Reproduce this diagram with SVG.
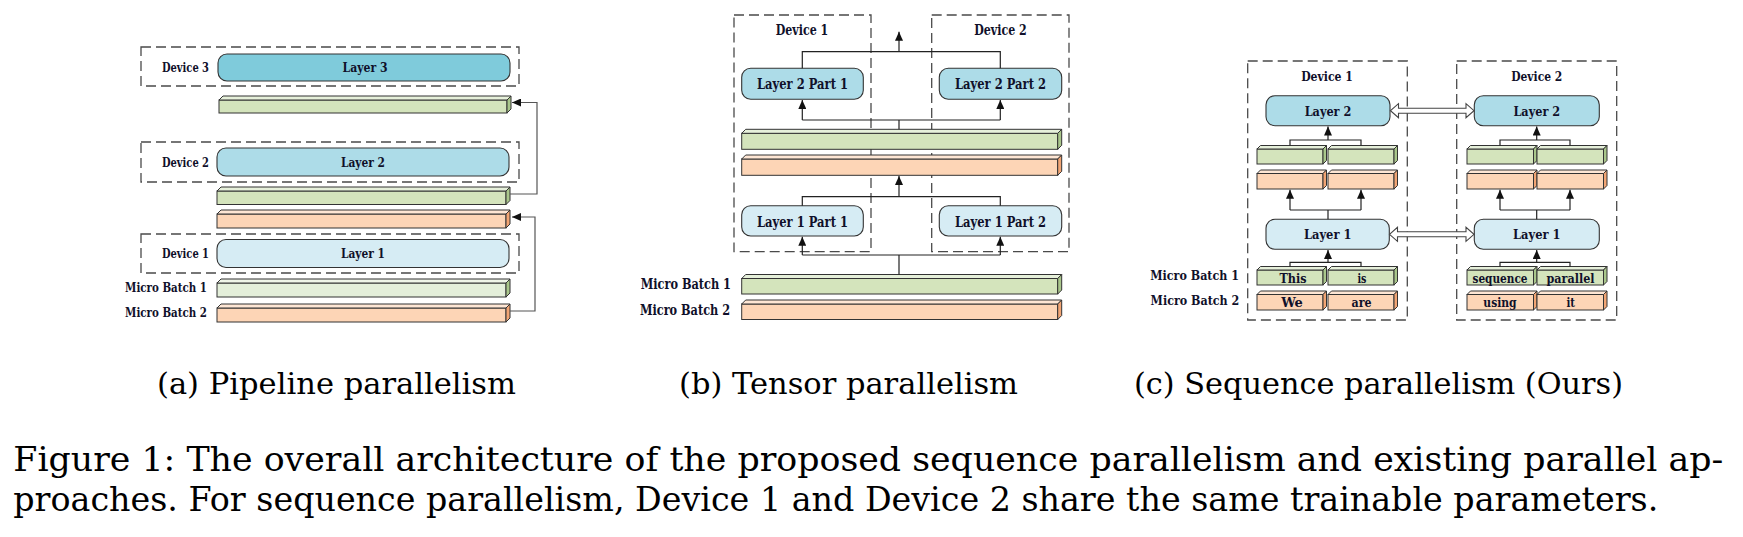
<svg xmlns="http://www.w3.org/2000/svg" width="1743" height="537" viewBox="0 0 1743 537">
<defs>
<style>
.dash{fill:none;stroke:#4a4a4a;stroke-width:1.3;stroke-dasharray:10 5}
.l3{fill:#7FCBDB;stroke:#333;stroke-width:1.1}
.l2{fill:#ADDCE8;stroke:#333;stroke-width:1.1}
.l1{fill:#D6ECF4;stroke:#333;stroke-width:1.1}
.gf{fill:#D4E4BC;stroke:#333;stroke-width:1}
.gt{fill:#E6F0DA;stroke:#333;stroke-width:1}
.gs{fill:#A9C68B;stroke:#333;stroke-width:1}
.pf{fill:#E4EFDA;stroke:#333;stroke-width:1}
.pt{fill:#EFF5E8;stroke:#333;stroke-width:1}
.of{fill:#FDD5B6;stroke:#333;stroke-width:1}
.ot{fill:#FEE6D4;stroke:#333;stroke-width:1}
.os{fill:#F2A574;stroke:#333;stroke-width:1}
.lbl{font-family:'DejaVu Serif',serif;font-weight:bold;fill:#10102a}
.a{font-size:12.5px}
.b{font-size:14px}
.c{font-size:13px}
.mid{text-anchor:middle}
.end{text-anchor:end}
.cap{font-family:'DejaVu Serif',serif;fill:#000}
.con{fill:none;stroke:#222;stroke-width:1.2}
.cong{fill:none;stroke:#555;stroke-width:1.2}
.dbl{fill:#fff;stroke:#444;stroke-width:1.1}
</style>
<marker id="ah" markerWidth="10" markerHeight="8" refX="9" refY="4" orient="auto" markerUnits="userSpaceOnUse">
<path d="M0,0 L9,4 L0,8 z" fill="#111"/>
</marker>
</defs>

<!-- Panel (a) -->
<g id="a-device3">
<rect class="dash" x="141" y="47" width="378" height="39"/>
<text class="lbl a" x="162" y="72" textLength="47" lengthAdjust="spacingAndGlyphs">Device 3</text>
</g>
<g id="a-layer3">
<rect class="l3" x="218" y="54" width="292" height="27" rx="9"/>
<text class="lbl a mid" x="365" y="72" textLength="45" lengthAdjust="spacingAndGlyphs">Layer 3</text>
</g>
<g id="a-bar-g1">
<rect class="gf" x="219" y="100" width="288" height="13"/>
<polygon class="gt" points="219,100 223,96 511,96 507,100"/>
<polygon class="gs" points="507,100 511,96 511,109 507,113"/>
</g>
<g id="a-device2">
<rect class="dash" x="141" y="142" width="378" height="40"/>
<text class="lbl a" x="162" y="166.7" textLength="47" lengthAdjust="spacingAndGlyphs">Device 2</text>
</g>
<g id="a-layer2">
<rect class="l2" x="217" y="148" width="292" height="28" rx="9"/>
<text class="lbl a mid" x="363" y="166.7" textLength="44" lengthAdjust="spacingAndGlyphs">Layer 2</text>
</g>
<g id="a-bar-g2">
<rect class="gf" x="217" y="191" width="289" height="13.5"/>
<polygon class="gt" points="217,191 221,187 510,187 506,191"/>
<polygon class="gs" points="506,191 510,187 510,200.5 506,204.5"/>
</g>
<g id="a-bar-o1">
<rect class="of" x="217" y="214" width="289" height="14"/>
<polygon class="ot" points="217,214 221,210 510,210 506,214"/>
<polygon class="os" points="506,214 510,210 510,224 506,228"/>
</g>
<g id="a-device1">
<rect class="dash" x="141" y="234" width="378" height="39"/>
<text class="lbl a" x="162" y="257.7" textLength="47" lengthAdjust="spacingAndGlyphs">Device 1</text>
</g>
<g id="a-layer1">
<rect class="l1" x="217" y="239.5" width="292" height="28" rx="9"/>
<text class="lbl a mid" x="363" y="257.7" textLength="44" lengthAdjust="spacingAndGlyphs">Layer 1</text>
</g>
<g id="a-mb1">
<rect class="pf" x="217" y="283" width="289" height="14"/>
<polygon class="pt" points="217,283 221,279 510,279 506,283"/>
<polygon class="gs" points="506,283 510,279 510,293 506,297"/>
<text class="lbl a end" x="207" y="292.1" textLength="82" lengthAdjust="spacingAndGlyphs">Micro Batch 1</text>
</g>
<g id="a-mb2">
<rect class="of" x="217" y="308" width="289" height="14"/>
<polygon class="ot" points="217,308 221,304 510,304 506,308"/>
<polygon class="os" points="506,308 510,304 510,318 506,322"/>
<text class="lbl a end" x="207" y="317.1" textLength="82" lengthAdjust="spacingAndGlyphs">Micro Batch 2</text>
</g>

<!-- Panel (b) -->
<g id="b-device1">
<rect class="dash" x="734" y="15" width="137" height="236.7"/>
<text class="lbl b mid" x="802" y="35" textLength="52.5" lengthAdjust="spacingAndGlyphs">Device 1</text>
</g>
<g id="b-device2">
<rect class="dash" x="931.7" y="15" width="137.3" height="236.7"/>
<text class="lbl b mid" x="1000.5" y="35" textLength="52.5" lengthAdjust="spacingAndGlyphs">Device 2</text>
</g>
<g id="b-l2p1">
<rect class="l2" x="741.7" y="68.3" width="121.6" height="31" rx="9"/>
<text class="lbl b mid" x="802.5" y="89" textLength="91" lengthAdjust="spacingAndGlyphs">Layer 2 Part 1</text>
</g>
<g id="b-l2p2">
<rect class="l2" x="939.3" y="68.3" width="122.4" height="31" rx="9"/>
<text class="lbl b mid" x="1000.5" y="89" textLength="91" lengthAdjust="spacingAndGlyphs">Layer 2 Part 2</text>
</g>
<g id="b-bar-g">
<rect class="gf" x="741.7" y="133.3" width="316" height="16"/>
<polygon class="gt" points="741.7,133.3 745.7,129.3 1061.7,129.3 1057.7,133.3"/>
<polygon class="gs" points="1057.7,133.3 1061.7,129.3 1061.7,145.3 1057.7,149.3"/>
</g>
<g id="b-bar-o">
<rect class="of" x="741.7" y="159" width="316" height="16.3"/>
<polygon class="ot" points="741.7,159 745.7,155 1061.7,155 1057.7,159"/>
<polygon class="os" points="1057.7,159 1061.7,155 1061.7,171.3 1057.7,175.3"/>
</g>
<g id="b-l1p1">
<rect class="l1" x="741.7" y="205.7" width="121.6" height="30.3" rx="9"/>
<text class="lbl b mid" x="802.5" y="226.7" textLength="91" lengthAdjust="spacingAndGlyphs">Layer 1 Part 1</text>
</g>
<g id="b-l1p2">
<rect class="l1" x="939.3" y="205.7" width="122.4" height="30.3" rx="9"/>
<text class="lbl b mid" x="1000.5" y="226.7" textLength="91" lengthAdjust="spacingAndGlyphs">Layer 1 Part 2</text>
</g>
<g id="b-mb1">
<rect class="gf" x="741.7" y="278.5" width="316" height="15.5"/>
<polygon class="gt" points="741.7,278.5 745.7,274.5 1061.7,274.5 1057.7,278.5"/>
<polygon class="gs" points="1057.7,278.5 1061.7,274.5 1061.7,290 1057.7,294"/>
<text class="lbl b end" x="731" y="289" textLength="90.3" lengthAdjust="spacingAndGlyphs">Micro Batch 1</text>
</g>
<g id="b-mb2">
<rect class="of" x="741.7" y="304" width="316" height="15.5"/>
<polygon class="ot" points="741.7,304 745.7,300 1061.7,300 1057.7,304"/>
<polygon class="os" points="1057.7,304 1061.7,300 1061.7,315.5 1057.7,319.5"/>
<text class="lbl b end" x="730" y="315" textLength="90" lengthAdjust="spacingAndGlyphs">Micro Batch 2</text>
</g>

<!-- Panel (c) -->
<g id="c-device1">
<rect class="dash" x="1247.7" y="61" width="159.6" height="259"/>
<text class="lbl c mid" x="1327" y="80.5" textLength="51.7" lengthAdjust="spacingAndGlyphs">Device 1</text>
</g>
<g id="c-device2">
<rect class="dash" x="1456.7" y="61" width="160" height="259"/>
<text class="lbl c mid" x="1536.7" y="80.5" textLength="51" lengthAdjust="spacingAndGlyphs">Device 2</text>
</g>
<g id="c-d1-layer2">
<rect class="l2" x="1266" y="95.7" width="124" height="30" rx="9"/>
<text class="lbl c mid" x="1328" y="115.5" textLength="46.7" lengthAdjust="spacingAndGlyphs">Layer 2</text>
</g>
<g id="c-d2-layer2">
<rect class="l2" x="1474.3" y="95.7" width="125" height="30" rx="9"/>
<text class="lbl c mid" x="1536.8" y="115.5" textLength="46.7" lengthAdjust="spacingAndGlyphs">Layer 2</text>
</g>
<g id="c-d1-layer1">
<rect class="l1" x="1266" y="219.3" width="123.3" height="30" rx="9"/>
<text class="lbl c mid" x="1327.7" y="239.1" textLength="47.5" lengthAdjust="spacingAndGlyphs">Layer 1</text>
</g>
<g id="c-d2-layer1">
<rect class="l1" x="1474.3" y="219.3" width="125" height="30" rx="9"/>
<text class="lbl c mid" x="1536.8" y="239.1" textLength="47.5" lengthAdjust="spacingAndGlyphs">Layer 1</text>
</g>
<g id="c-d1-g">
<rect class="gf" x="1257" y="149" width="66" height="15"/>
<polygon class="gt" points="1257,149 1260.5,145.5 1326.5,145.5 1323,149"/>
<polygon class="gs" points="1323,149 1326.5,145.5 1326.5,160.5 1323,164"/>
<rect class="gf" x="1328" y="149" width="66" height="15"/>
<polygon class="gt" points="1328,149 1331.5,145.5 1397.5,145.5 1394,149"/>
<polygon class="gs" points="1394,149 1397.5,145.5 1397.5,160.5 1394,164"/>
</g>
<g id="c-d1-o">
<rect class="of" x="1257" y="173.5" width="66" height="15.5"/>
<polygon class="ot" points="1257,173.5 1260.5,170 1326.5,170 1323,173.5"/>
<polygon class="os" points="1323,173.5 1326.5,170 1326.5,185.5 1323,189"/>
<rect class="of" x="1328" y="173.5" width="66" height="15.5"/>
<polygon class="ot" points="1328,173.5 1331.5,170 1397.5,170 1394,173.5"/>
<polygon class="os" points="1394,173.5 1397.5,170 1397.5,185.5 1394,189"/>
</g>
<g id="c-d1-mb1">
<rect class="gf" x="1257" y="270" width="66" height="15"/>
<polygon class="gt" points="1257,270 1260.5,266.5 1326.5,266.5 1323,270"/>
<polygon class="gs" points="1323,270 1326.5,266.5 1326.5,281.5 1323,285"/>
<rect class="gf" x="1328" y="270" width="66" height="15"/>
<polygon class="gt" points="1328,270 1331.5,266.5 1397.5,266.5 1394,270"/>
<polygon class="gs" points="1394,270 1397.5,266.5 1397.5,281.5 1394,285"/>
<text class="lbl c mid" x="1293" y="282.5" textLength="27" lengthAdjust="spacingAndGlyphs">This</text>
<text class="lbl c mid" x="1362" y="282.5" textLength="9" lengthAdjust="spacingAndGlyphs">is</text>
</g>
<g id="c-d1-mb2">
<rect class="of" x="1257" y="294.5" width="66" height="15.5"/>
<polygon class="ot" points="1257,294.5 1260.5,291 1326.5,291 1323,294.5"/>
<polygon class="os" points="1323,294.5 1326.5,291 1326.5,306.5 1323,310"/>
<rect class="of" x="1328" y="294.5" width="66" height="15.5"/>
<polygon class="ot" points="1328,294.5 1331.5,291 1397.5,291 1394,294.5"/>
<polygon class="os" points="1394,294.5 1397.5,291 1397.5,306.5 1394,310"/>
<text class="lbl c mid" x="1292" y="306.8" textLength="21.7" lengthAdjust="spacingAndGlyphs">We</text>
<text class="lbl c mid" x="1361.5" y="306.8" textLength="20" lengthAdjust="spacingAndGlyphs">are</text>
</g>
<g id="c-d2-g">
<rect class="gf" x="1467" y="149" width="66.5" height="15"/>
<polygon class="gt" points="1467,149 1470.5,145.5 1537,145.5 1533.5,149"/>
<polygon class="gs" points="1533.5,149 1537,145.5 1537,160.5 1533.5,164"/>
<rect class="gf" x="1537" y="149" width="66.5" height="15"/>
<polygon class="gt" points="1537,149 1540.5,145.5 1607,145.5 1603.5,149"/>
<polygon class="gs" points="1603.5,149 1607,145.5 1607,160.5 1603.5,164"/>
</g>
<g id="c-d2-o">
<rect class="of" x="1467" y="173.5" width="66.5" height="15.5"/>
<polygon class="ot" points="1467,173.5 1470.5,170 1537,170 1533.5,173.5"/>
<polygon class="os" points="1533.5,173.5 1537,170 1537,185.5 1533.5,189"/>
<rect class="of" x="1537" y="173.5" width="66.5" height="15.5"/>
<polygon class="ot" points="1537,173.5 1540.5,170 1607,170 1603.5,173.5"/>
<polygon class="os" points="1603.5,173.5 1607,170 1607,185.5 1603.5,189"/>
</g>
<g id="c-d2-mb1">
<rect class="gf" x="1467" y="270" width="66.5" height="15"/>
<polygon class="gt" points="1467,270 1470.5,266.5 1537,266.5 1533.5,270"/>
<polygon class="gs" points="1533.5,270 1537,266.5 1537,281.5 1533.5,285"/>
<rect class="gf" x="1537" y="270" width="66.5" height="15"/>
<polygon class="gt" points="1537,270 1540.5,266.5 1607,266.5 1603.5,270"/>
<polygon class="gs" points="1603.5,270 1607,266.5 1607,281.5 1603.5,285"/>
<text class="lbl c mid" x="1500" y="282.5" textLength="55" lengthAdjust="spacingAndGlyphs">sequence</text>
<text class="lbl c mid" x="1570.5" y="282.5" textLength="48" lengthAdjust="spacingAndGlyphs">parallel</text>
</g>
<g id="c-d2-mb2">
<rect class="of" x="1467" y="294.5" width="66.5" height="15.5"/>
<polygon class="ot" points="1467,294.5 1470.5,291 1537,291 1533.5,294.5"/>
<polygon class="os" points="1533.5,294.5 1537,291 1537,306.5 1533.5,310"/>
<rect class="of" x="1537" y="294.5" width="66.5" height="15.5"/>
<polygon class="ot" points="1537,294.5 1540.5,291 1607,291 1603.5,294.5"/>
<polygon class="os" points="1603.5,294.5 1607,291 1607,306.5 1603.5,310"/>
<text class="lbl c mid" x="1500" y="306.8" textLength="33.3" lengthAdjust="spacingAndGlyphs">using</text>
<text class="lbl c mid" x="1570.7" y="306.8" textLength="8.5" lengthAdjust="spacingAndGlyphs">it</text>
</g>
<g id="c-labels">
<text class="lbl c end" x="1239" y="280.3" textLength="88.7" lengthAdjust="spacingAndGlyphs">Micro Batch 1</text>
<text class="lbl c end" x="1239.3" y="304.6" textLength="88.7" lengthAdjust="spacingAndGlyphs">Micro Batch 2</text>
</g>

<!-- Connectors -->
<g id="connectors">
<path class="cong" d="M510,311 H535 V217 H512" marker-end="url(#ah)"/>
<path class="cong" d="M510,194 H537 V102.5 H512" marker-end="url(#ah)"/>
<path class="con" d="M802.3,68.3 V51.7 H1000.3 V68.3"/>
<path class="con" d="M899,51.7 V31.7" marker-end="url(#ah)"/>
<path class="con" d="M802.3,120 H1000.3 M899,129.3 V120"/>
<path class="con" d="M802.3,120 V100" marker-end="url(#ah)"/>
<path class="con" d="M1000.3,120 V100" marker-end="url(#ah)"/>
<path class="con" d="M899,196.7 V176" marker-end="url(#ah)"/>
<path class="con" d="M802.3,205.7 V196.7 H1000.3 V205.7"/>
<path class="con" d="M899,274.5 V255 M802.3,255 H1000.3"/>
<path class="con" d="M802.3,255 V236.8" marker-end="url(#ah)"/>
<path class="con" d="M1000.3,255 V236.8" marker-end="url(#ah)"/>
<path class="con" d="M1328,140 V126.5" marker-end="url(#ah)"/>
<path class="con" d="M1290,145.5 V140 H1361 V145.5"/>
<path class="con" d="M1328,219.3 V210 M1290,210 H1361"/>
<path class="con" d="M1290,210 V189.8" marker-end="url(#ah)"/>
<path class="con" d="M1361,210 V189.8" marker-end="url(#ah)"/>
<path class="con" d="M1328,262.3 V250" marker-end="url(#ah)"/>
<path class="con" d="M1290,266.5 V262.3 H1361 V266.5"/>
<path class="con" d="M1536.7,140 V126.5" marker-end="url(#ah)"/>
<path class="con" d="M1500,145.5 V140 H1570 V145.5"/>
<path class="con" d="M1536.7,219.3 V210 M1500,210 H1570"/>
<path class="con" d="M1500,210 V189.8" marker-end="url(#ah)"/>
<path class="con" d="M1570,210 V189.8" marker-end="url(#ah)"/>
<path class="con" d="M1536.7,262.3 V250" marker-end="url(#ah)"/>
<path class="con" d="M1500,266.5 V262.3 H1570 V266.5"/>
<polygon class="dbl" points="1390.5,110.7 1398.5,103.7 1398.5,108.2 1466,108.2 1466,103.7 1474,110.7 1466,117.7 1466,113.2 1398.5,113.2 1398.5,117.7"/>
<polygon class="dbl" points="1389.5,234.3 1397.5,227.3 1397.5,231.8 1466,231.8 1466,227.3 1474,234.3 1466,241.3 1466,236.8 1397.5,236.8 1397.5,241.3"/>
</g>

<!-- Captions -->
<g id="captions">
<text class="cap" x="157" y="394.3" font-size="29" textLength="359" lengthAdjust="spacingAndGlyphs">(a) Pipeline parallelism</text>
<text class="cap" x="679" y="394.3" font-size="29" textLength="339" lengthAdjust="spacingAndGlyphs">(b) Tensor parallelism</text>
<text class="cap" x="1134" y="394.3" font-size="29" textLength="489" lengthAdjust="spacingAndGlyphs">(c) Sequence parallelism (Ours)</text>
<text class="cap" x="13.3" y="471" font-size="33.5" textLength="1710" lengthAdjust="spacingAndGlyphs">Figure 1: The overall architecture of the proposed sequence parallelism and existing parallel ap-</text>
<text class="cap" x="13.3" y="511" font-size="33.5" textLength="1645" lengthAdjust="spacingAndGlyphs">proaches. For sequence parallelism, Device 1 and Device 2 share the same trainable parameters.</text>
</g>
</svg>
